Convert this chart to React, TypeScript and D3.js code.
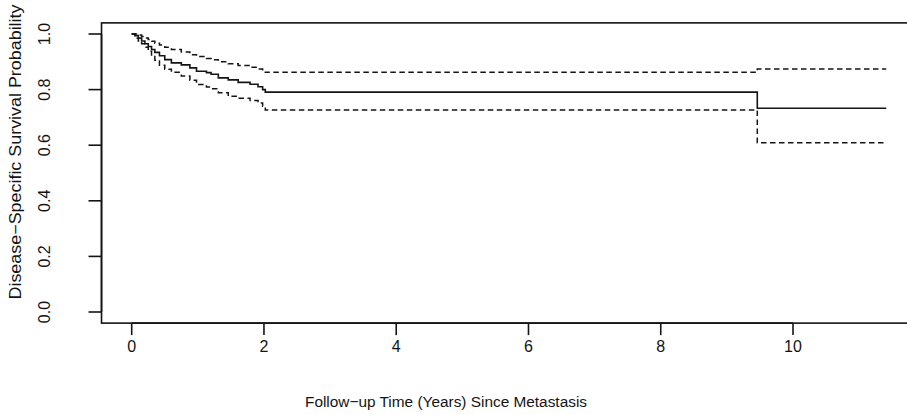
import React from "react";
import * as d3 from "d3";

// Kaplan-Meier estimate
const times = [0, 0.05, 0.1, 0.15, 0.2, 0.25, 0.3, 0.35, 0.42, 0.5, 0.6, 0.75, 0.88, 0.98, 1.13, 1.2, 1.31, 1.46, 1.61, 1.79, 1.91, 1.98, 2.02, 9.46];
const survival = [1, 0.994, 0.985, 0.975, 0.965, 0.955, 0.944, 0.934, 0.922, 0.908, 0.896, 0.889, 0.878, 0.866, 0.861, 0.855, 0.842, 0.835, 0.826, 0.819, 0.81, 0.8, 0.791, 0.733];
const upper = [1, 1, 0.996, 0.991, 0.986, 0.98, 0.974, 0.967, 0.96, 0.952, 0.944, 0.935, 0.925, 0.919, 0.912, 0.907, 0.9, 0.893, 0.887, 0.88, 0.874, 0.867, 0.862, 0.874];
const lower = [1, 0.985, 0.975, 0.965, 0.952, 0.938, 0.922, 0.906, 0.888, 0.873, 0.862, 0.849, 0.834, 0.818, 0.809, 0.803, 0.789, 0.776, 0.769, 0.761, 0.752, 0.74, 0.727, 0.609];
const lastTime = 11.41;

const xTicks = [0, 2, 4, 6, 8, 10];
const yTicks = [0, 0.2, 0.4, 0.6, 0.8, 1];

const xTitle = "Follow\u2212up Time (Years) Since Metastasis";
const yTitle = "Disease\u2212Specific Survival Probability";

const W = 907;
const H = 415;
const font = "'Liberation Sans', Arial, sans-serif";
const ink = "#141414";

export default function App() {
  const x = d3.scaleLinear().domain([0, 10]).range([131.7, 793]);
  const y = d3.scaleLinear().domain([0, 1]).range([312, 34]);

  // R-style 4% padding around the data range
  const left = x(-0.04 * lastTime);
  const right = x(lastTime * 1.04);
  const top = y(1.04);
  const bottom = y(-0.04);

  const stepLine = d3
    .line<[number, number]>()
    .x((d) => x(d[0]))
    .y((d) => y(d[1]))
    .curve(d3.curveStepAfter);

  const pts = (vals: number[]): [number, number][] => {
    const p = times.map((t, i) => [t, vals[i]] as [number, number]);
    p.push([lastTime, vals[vals.length - 1]]);
    return p;
  };

  return (
    <svg
      width={W}
      height={H}
      style={{ position: "absolute", left: 0, top: 0, background: "#fff" }}
    >
      <rect x={0} y={0} width={W} height={H} fill="#fff" />

      {/* plot box */}
      <rect
        x={left}
        y={top}
        width={right - left}
        height={bottom - top}
        fill="none"
        stroke={ink}
        strokeWidth={1.6}
      />

      {/* confidence band */}
      <path d={stepLine(pts(upper)) ?? ""} fill="none" stroke={ink} strokeWidth={1.5} strokeDasharray="5.5,3.5" />
      <path d={stepLine(pts(lower)) ?? ""} fill="none" stroke={ink} strokeWidth={1.5} strokeDasharray="5.5,3.5" />
      {/* survival estimate */}
      <path d={stepLine(pts(survival)) ?? ""} fill="none" stroke={ink} strokeWidth={1.6} />

      {/* x axis */}
      <line x1={x(xTicks[0])} x2={x(xTicks[xTicks.length - 1])} y1={bottom} y2={bottom} stroke={ink} strokeWidth={1.6} />
      {xTicks.map((t) => (
        <g key={"x" + t}>
          <line x1={x(t)} x2={x(t)} y1={bottom} y2={bottom + 12} stroke={ink} strokeWidth={1.6} />
          <text
            x={x(t)}
            y={352}
            textAnchor="middle"
            fontFamily={font}
            fontSize={16}
            fill={ink}
          >
            {t}
          </text>
        </g>
      ))}

      {/* y axis */}
      <line x1={left} x2={left} y1={y(yTicks[0])} y2={y(yTicks[yTicks.length - 1])} stroke={ink} strokeWidth={1.6} />
      {yTicks.map((t) => (
        <g key={"y" + t}>
          <line x1={left - 13} x2={left} y1={y(t)} y2={y(t)} stroke={ink} strokeWidth={1.6} />
          <text
            transform={`translate(50,${y(t)}) rotate(-90)`}
            textAnchor="middle"
            fontFamily={font}
            fontSize={16}
            fill={ink}
          >
            {t.toFixed(1)}
          </text>
        </g>
      ))}

      {/* titles */}
      <text
        x={446}
        y={407}
        textAnchor="middle"
        fontFamily={font}
        fontSize={15.5}
        fill={ink}
        textLength={282}
        lengthAdjust="spacingAndGlyphs"
      >
        {xTitle}
      </text>
      <text
        transform={`translate(21,152) rotate(-90)`}
        textAnchor="middle"
        fontFamily={font}
        fontSize={16}
        fill={ink}
        textLength={295}
        lengthAdjust="spacingAndGlyphs"
      >
        {yTitle}
      </text>
    </svg>
  );
}
